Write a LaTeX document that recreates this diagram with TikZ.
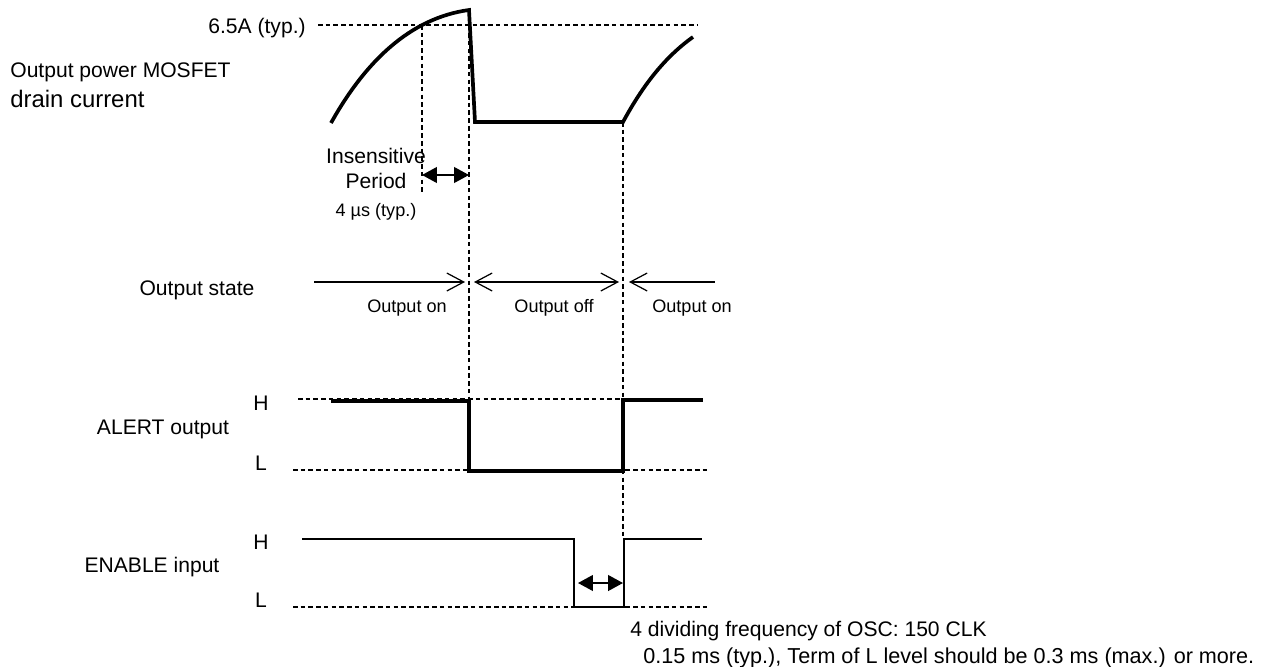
\documentclass[tikz,border=0pt]{standalone}
\usepackage{fontspec}
\setmainfont{Liberation Sans}
\usetikzlibrary{arrows.meta}

\begin{document}
\begin{tikzpicture}[
  x=0.02cm,y=-0.02cm,
  font=\fontsize{12}{14}\selectfont,
  lbl/.style={inner sep=0pt,anchor=base},
  sml/.style={lbl,font=\fontsize{10.3}{12}\selectfont},
  guide/.style={line width=0.7pt,dash pattern=on 2.6pt off 1.8pt},
  wave/.style={line width=2.1pt,line join=miter},
  thinwave/.style={line width=0.9pt,line join=miter},
  barb/.tip={Straight Barb[length=9.6pt,width=10.2pt]},
  tri/.tip={Triangle[length=8.5pt,width=9pt]},
  statearr/.style={line width=0.7pt},
  tgap/.style={tri-tri,line width=0.9pt}]
\useasboundingbox (0,0) rectangle (1267,666);
\node[lbl,anchor=base east] (ipk) at (306,33) {6.5A (typ.)};
\node[lbl,anchor=base west] (mos) at (10,77) {Output power MOSFET};
\node[lbl,anchor=base west,font=\fontsize{13.6}{16}\selectfont] (drn) at (10,107) {drain current};
\node[lbl] (ins) at (376,163) {Insensitive};
\node[lbl] (per) at (376,188) {Period};
\node[sml] (tins) at (376,216) {4 µs (typ.)};
\node[lbl] (st) at (197,295) {Output state};
\node[sml] (on1) at (407,312) {Output on};
\node[sml] (off) at (554,312) {Output off};
\node[sml] (on2) at (692,312) {Output on};
\node[lbl] (al) at (163,434) {ALERT output};
\node[lbl] (alH) at (261,410) {H};
\node[lbl] (alL) at (261,470) {L};
\node[lbl] (en) at (152,572) {ENABLE input};
\node[lbl] (enH) at (261,549) {H};
\node[lbl] (enL) at (261,607) {L};
\node[lbl,anchor=base west] (osc) at (630,636) {4 dividing frequency of OSC: 150 CLK};
\node[lbl,anchor=base west,font=\fontsize{12.3}{14}\selectfont] (term) at (643,663) {0.15 ms (typ.), Term of L level should be 0.3 ms (max.) or more.};
\draw[guide] (318,25) -- (698,25);
\draw[guide] (422,25) -- (422,195);
\draw[guide] (469,10) -- (469,400);
\draw[guide] (623,122) -- (623,539);
\draw[guide] (298,399) -- (623,399);
\draw[guide] (293,470) -- (710,470);
\draw[guide] (293,607) -- (710,607);
\draw[wave] (331,123) .. controls (365,62) and (410,18) .. (469,10) -- (475,122) -- (623,122)
  .. controls (643,85) and (665,57) .. (693,37);
\draw[tgap] (422,175) -- (469,175);
\draw[statearr,-barb] (314,282) -- (465,282);
\draw[statearr,barb-barb] (474,282) -- (619,282);
\draw[statearr,barb-] (629,282) -- (715,282);
\draw[wave] (331,401) -- (469,401) -- (469,471) -- (623,471) -- (623,400) -- (703,400);
\draw[thinwave] (302,539) -- (574,539) -- (574,607) -- (624,607) -- (624,539) -- (702,539);
\draw[tgap] (578,583) -- (623,583);
\end{tikzpicture}
\end{document}
